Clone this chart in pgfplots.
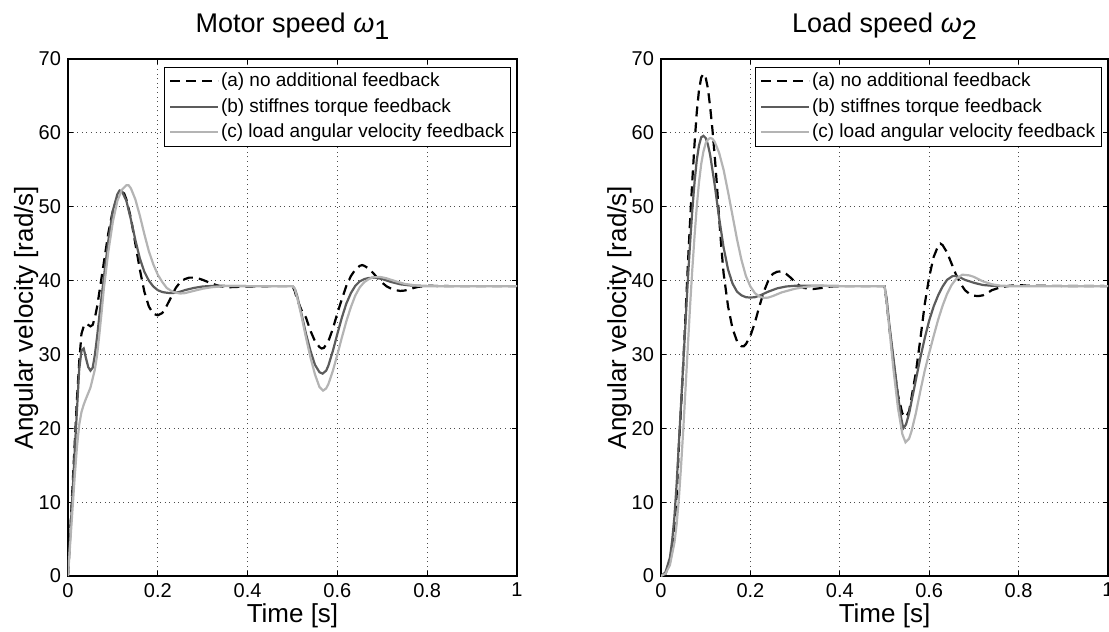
\documentclass[border=0pt]{standalone}
\usepackage{fontspec}
\setmainfont{Liberation Sans}
\usepackage{pgfplots}
\pgfplotsset{compat=1.18}

\definecolor{cA}{HTML}{000000}
\definecolor{cB}{HTML}{5C5C5C}
\definecolor{cC}{HTML}{B4B4B4}

\pgfplotsset{
  mlax/.style={
    scale only axis,
    height=258.5pt,
    xmin=0, xmax=1, ymin=0, ymax=70,
    xtick={0,0.2,0.4,0.6,0.8,1},
    ytick={0,10,20,30,40,50,60,70},
    tick align=inside,
    major tick length=2.5pt,
    tick style={black, line width=0.5pt},
    axis line style={black, line width=0.6pt},
    grid=major,
    major grid style={black!70, line width=0.5pt, dash pattern=on 0.5pt off 1.8pt},
    /pgf/number format/assume math mode=true,
    tick label style={font=\fontsize{10}{12}\selectfont},
    label style={font=\fontsize{13}{15}\selectfont},
    xlabel={Time [s]},
    ylabel={Angular velocity [rad/s]},
    xlabel style={at={(axis description cs:0.5,0)}, anchor=base, yshift=-23pt},
    ylabel style={at={(axis description cs:-0.078,0.5)}, anchor=base},
    title style={at={(axis description cs:0.5,1)}, anchor=base, yshift=7.5pt,
                 font=\fontsize{13.5}{15}\selectfont},
    legend style={at={(axis description cs:0.987,0.985)}, anchor=north east,
      draw=black, fill=white, line width=0.5pt,
      font=\fontsize{9.5}{11}\selectfont,
      inner xsep=2.5pt, inner ysep=2pt, row sep=2.8pt,
      nodes={inner sep=0.8pt},
      cells={anchor=west}},
    legend image code/.code={\draw[#1] (0pt,0pt) -- (24pt,0pt);},
    every axis plot/.append style={line width=1.1pt},
  },
  pa/.style={cA, dash pattern=on 5pt off 3pt},
  pb/.style={cB},
  pc/.style={cC},
}

\begin{document}
\begin{tikzpicture}
\useasboundingbox (-34pt,-28pt) rectangle (520.5pt,288pt);

% motor speed
\begin{axis}[mlax, width=224.5pt, at={(0pt,0pt)},
  title={Motor speed {\itshape ω}\raisebox{-0.5ex}{1}}]
\addplot[pa] coordinates {
(0,0) (0.005,6) (0.01,12) (0.015,18) (0.02,24) (0.025,29) (0.03,32.8)
(0.035,33.8) (0.04,34.2) (0.045,34.0) (0.05,33.8) (0.055,34.0) (0.06,35.0)
(0.065,36.5) (0.07,38.5) (0.08,42.5) (0.09,46.5) (0.10,49.5) (0.11,51.3)
(0.12,52.0) (0.125,51.8) (0.13,51.0) (0.14,48.5) (0.15,45.0) (0.16,41.5)
(0.17,38.5) (0.18,36.5) (0.19,35.5) (0.20,35.3) (0.21,35.6) (0.22,36.6)
(0.23,37.8) (0.24,39.0) (0.25,39.8) (0.26,40.2) (0.27,40.4) (0.28,40.4)
(0.29,40.3) (0.30,40.1) (0.32,39.6) (0.34,39.2) (0.36,39.1) (0.38,39.15)
(0.40,39.2) (0.45,39.25) (0.50,39.25) (0.505,38.6) (0.51,37.5) (0.52,36.0)
(0.53,35.0) (0.54,33.2) (0.55,31.8) (0.56,31.0) (0.565,30.8) (0.57,30.9)
(0.58,31.8) (0.59,33.5) (0.60,35.6) (0.61,37.5) (0.62,39.3) (0.63,40.6)
(0.64,41.5) (0.65,42.0) (0.655,42.1) (0.66,42.0) (0.67,41.6) (0.68,41.0)
(0.69,40.3) (0.70,39.7) (0.71,39.2) (0.72,38.9) (0.73,38.7) (0.74,38.6)
(0.75,38.65) (0.76,38.8) (0.77,39.0) (0.78,39.15) (0.80,39.3) (0.85,39.25)
(1.0,39.25)};
\addlegendentry{(a) no additional feedback}
\addplot[pb] coordinates {
(0,0) (0.005,5.5) (0.01,11) (0.015,17) (0.02,22.5) (0.025,28) (0.03,30.5)
(0.035,30.8) (0.04,29.5) (0.045,28.3) (0.05,27.8) (0.055,28.2) (0.06,30)
(0.065,32.5) (0.07,35.3) (0.08,40.5) (0.09,45.5) (0.10,49.5) (0.11,51.7)
(0.115,52.2) (0.12,52.1) (0.13,50.8) (0.14,48.3) (0.15,45.5) (0.16,43)
(0.17,41.2) (0.18,40) (0.19,39.2) (0.20,38.7) (0.21,38.45) (0.22,38.35)
(0.23,38.3) (0.24,38.35) (0.25,38.5) (0.26,38.7) (0.28,39.0) (0.30,39.2)
(0.33,39.3) (0.40,39.25) (0.50,39.25) (0.505,38.9) (0.51,38.0) (0.52,35.5)
(0.53,32.8) (0.54,30.5) (0.55,28.6) (0.56,27.6) (0.567,27.4) (0.575,27.8)
(0.58,28.5) (0.59,30.5) (0.60,32.8) (0.61,35.0) (0.62,36.9) (0.63,38.3)
(0.64,39.3) (0.65,39.9) (0.66,40.2) (0.67,40.35) (0.684,40.4) (0.70,40.2)
(0.72,39.8) (0.74,39.5) (0.76,39.35) (0.80,39.25) (1.0,39.25)};
\addlegendentry{(b) stiffnes torque feedback}
\addplot[pc] coordinates {
(0,0) (0.005,4.5) (0.01,9) (0.015,13.5) (0.02,17.5) (0.025,20.5) (0.03,22.2)
(0.035,23.2) (0.04,24) (0.05,25.5) (0.06,28) (0.065,30) (0.07,32.8)
(0.075,35.8) (0.08,39) (0.09,44) (0.10,48) (0.11,50.8) (0.12,52.3)
(0.13,52.9) (0.135,52.9) (0.14,52.5) (0.15,51) (0.16,48.8) (0.17,46.3)
(0.18,44) (0.19,42.2) (0.20,40.8) (0.21,39.8) (0.22,39.0) (0.23,38.6)
(0.24,38.35) (0.25,38.25) (0.26,38.3) (0.28,38.6) (0.30,38.9) (0.32,39.1)
(0.35,39.25) (0.50,39.25) (0.505,38.9) (0.51,37.8) (0.52,35.2) (0.53,32.3)
(0.54,29.6) (0.55,27.3) (0.56,25.6) (0.568,25.1) (0.575,25.4) (0.58,26)
(0.59,27.8) (0.60,30) (0.61,32.3) (0.62,34.5) (0.63,36.4) (0.64,38)
(0.65,39.1) (0.66,39.8) (0.67,40.2) (0.68,40.45) (0.695,40.5) (0.71,40.3)
(0.73,39.9) (0.75,39.55) (0.78,39.3) (0.80,39.25) (1.0,39.25)};
\addlegendentry{(c) load angular velocity feedback}
\end{axis}

% load speed
\begin{axis}[mlax, width=223.5pt, at={(296.5pt,0pt)},
  title={Load speed {\itshape ω}\raisebox{-0.5ex}{2}}]
\addplot[pa] coordinates {
(0,0) (0.01,0.3) (0.02,2) (0.025,4) (0.03,7) (0.035,11) (0.04,17.5)
(0.045,23) (0.05,29) (0.055,35.5) (0.06,42) (0.065,48) (0.07,53.5)
(0.075,58.5) (0.08,62.8) (0.085,65.8) (0.09,67.5) (0.095,68.0) (0.10,67.5)
(0.105,66) (0.11,63.5) (0.115,60.5) (0.12,57) (0.125,53) (0.13,48.5)
(0.135,44.5) (0.14,41) (0.15,36.5) (0.16,33.5) (0.17,31.8) (0.18,31.1)
(0.185,31.1) (0.19,31.4) (0.20,32.5) (0.21,34.3) (0.22,36.5) (0.23,38.5)
(0.24,40) (0.25,40.9) (0.26,41.2) (0.27,41.25) (0.28,40.9) (0.29,40.4)
(0.30,39.8) (0.31,39.3) (0.32,39.0) (0.34,38.85) (0.36,39.0) (0.38,39.2)
(0.40,39.25) (0.50,39.25) (0.505,37) (0.51,34) (0.52,29) (0.53,24.5)
(0.54,22) (0.548,21.5) (0.555,22.3) (0.56,24) (0.57,27.5) (0.58,32)
(0.59,36.8) (0.60,40.5) (0.61,43.2) (0.62,44.7) (0.625,45) (0.63,44.8)
(0.64,43.8) (0.65,42.3) (0.66,40.8) (0.67,39.6) (0.68,38.7) (0.69,38.2)
(0.70,37.95) (0.71,37.9) (0.72,38.0) (0.73,38.3) (0.74,38.7) (0.76,39.1)
(0.78,39.3) (0.80,39.4) (0.82,39.3) (1.0,39.25)};
\addlegendentry{(a) no additional feedback}
\addplot[pb] coordinates {
(0,0) (0.01,0.5) (0.02,2.5) (0.025,4.8) (0.03,8) (0.035,12.5) (0.04,18)
(0.045,23.5) (0.05,29) (0.055,34.5) (0.06,40) (0.065,45) (0.07,49.5)
(0.075,53.3) (0.08,56.3) (0.085,58.3) (0.09,59.4) (0.095,59.6) (0.10,59.3)
(0.105,58.4) (0.11,57) (0.12,53) (0.13,48.5) (0.14,44.5) (0.15,41.5)
(0.16,39.6) (0.17,38.5) (0.18,38) (0.19,37.75) (0.20,37.7) (0.21,37.75)
(0.22,37.95) (0.24,38.5) (0.26,38.95) (0.28,39.2) (0.30,39.3) (0.35,39.3)
(0.40,39.25) (0.50,39.25) (0.505,37.5) (0.51,34.5) (0.52,29.5) (0.53,24.5)
(0.537,21.5) (0.542,20.0) (0.548,20.5) (0.555,22) (0.56,23.5) (0.57,26.5)
(0.58,29.5) (0.59,32.2) (0.60,34.6) (0.61,36.5) (0.62,38) (0.63,39.2)
(0.64,40.1) (0.652,40.6) (0.66,40.6) (0.67,40.4) (0.68,40.1) (0.70,39.7)
(0.72,39.4) (0.74,39.3) (0.76,39.25) (1.0,39.25)};
\addlegendentry{(b) stiffnes torque feedback}
\addplot[pc] coordinates {
(0,0) (0.01,0.3) (0.02,1.5) (0.03,4.5) (0.035,7) (0.04,10.5) (0.045,15)
(0.05,20) (0.055,25.5) (0.06,31) (0.065,36.5) (0.07,41.5) (0.075,46)
(0.08,50) (0.085,53.3) (0.09,55.8) (0.095,57.5) (0.10,58.6) (0.105,59.1)
(0.11,59.3) (0.115,59.2) (0.12,58.8) (0.13,57.3) (0.14,55) (0.15,52)
(0.16,48.8) (0.17,45.6) (0.18,42.8) (0.19,40.6) (0.20,39.2) (0.21,38.3)
(0.22,37.85) (0.23,37.65) (0.24,37.7) (0.25,37.9) (0.27,38.4) (0.30,38.9)
(0.33,39.2) (0.36,39.3) (0.40,39.25) (0.50,39.25) (0.503,38) (0.51,34)
(0.52,28) (0.53,22.8) (0.54,19.2) (0.547,18.1) (0.555,18.6) (0.56,19.5)
(0.57,22) (0.58,25) (0.59,27.8) (0.60,30.2) (0.61,32.5) (0.62,34.7)
(0.63,36.6) (0.64,38.2) (0.65,39.4) (0.66,40.2) (0.674,40.8) (0.69,40.7)
(0.70,40.5) (0.72,39.9) (0.74,39.5) (0.76,39.3) (0.80,39.25) (1.0,39.25)};
\addlegendentry{(c) load angular velocity feedback}
\end{axis}
\end{tikzpicture}
\end{document}
